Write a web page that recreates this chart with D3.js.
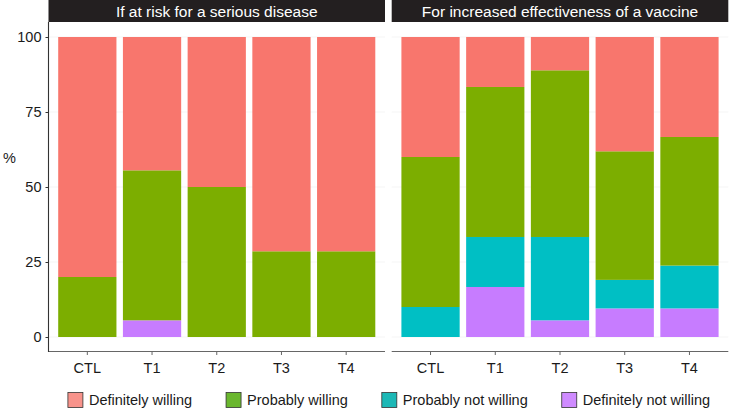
<!DOCTYPE html>
<html><head><meta charset="utf-8">
<script src="https://cdn.jsdelivr.net/npm/d3@7"></script>
<style>body{margin:0;background:#fff}svg{display:block;font-family:"Liberation Sans",Arial,sans-serif}</style>
</head><body><svg id="c" width="729" height="414"></svg>
<script>
const panels = ["If at risk for a serious disease","For increased effectiveness of a vaccine"];
const groups = ["CTL","T1","T2","T3","T4"];
const levels = ["Definitely willing","Probably willing","Probably not willing","Definitely not willing"];
const colors = ["#F8766D","#7CAE00","#00BFC4","#C77CFF"];
const keyColors = ["#F8938B","#6AB72E","#1CB8B6","#CF8BFF"];
const yTicks = [0,25,50,75,100];
// percentages per panel, per group
const riskDefNot  = [0, 5.56, 0, 0, 0];
const riskProbNot = [0, 0, 0, 0, 0];
const riskProb    = [20, 50, 50, 28.57, 28.57];
const riskDef     = [80, 44.44, 50, 71.43, 71.43];
const effDefNot   = [0, 16.67, 5.56, 9.52, 9.52];
const effProbNot  = [10, 16.67, 27.78, 9.52, 14.29];
const effProb     = [50, 50, 55.56, 42.86, 42.86];
const effDef      = [40, 16.67, 11.11, 38.10, 33.33];

const data = [
  {defNot:riskDefNot, probNot:riskProbNot, prob:riskProb, def:riskDef},
  {defNot:effDefNot, probNot:effProbNot, prob:effProb, def:effDef}
];

const svg = d3.select("#c");
const panelX = [[48.5,385],[391.7,728.3]];
const pTop = 22, pBottom = 352;
const y = d3.scaleLinear().domain([-5,105]).range([pBottom, pTop]);

panels.forEach((title,pi)=>{
  const [x0,x1] = panelX[pi];
  const step = (x1-x0)/5.2;
  const x = d3.scalePoint().domain(groups).range([x0+0.6*step, x1-0.6*step]);
  const bw = step*0.9;
  const g = svg.append("g");
  g.selectAll("line.grid").data(yTicks).join("line")
    .attr("x1",x0).attr("x2",x1).attr("y1",d=>y(d)).attr("y2",d=>y(d))
    .attr("stroke","#f3f3f3").attr("stroke-width",0.8);
  g.append("rect").attr("x",x0).attr("y",0).attr("width",x1-x0).attr("height",pTop)
    .attr("fill","#231F20");
  g.append("text").attr("x",(x0+x1)/2).attr("y",16.5).attr("text-anchor","middle")
    .attr("fill","#fff").attr("font-size",15.5).text(title);
  const d = data[pi];
  const rows = groups.map((gr,i)=>({g:gr, v:[d.defNot[i], d.probNot[i], d.prob[i], d.def[i]]}));
  const levIdx = [3,2,1,0];
  rows.forEach(r=>{
    let acc = 0;
    r.v.forEach((v,k)=>{
      if(v<=0) return;
      g.append("rect").attr("x",x(r.g)-bw/2).attr("width",bw)
        .attr("y",y(acc+v)).attr("height",y(acc)-y(acc+v))
        .attr("fill",colors[levIdx[k]]);
      acc += v;
    });
  });
  const ax = g.append("g");
  ax.append("line").attr("x1",x0).attr("x2",x1).attr("y1",pBottom-0.5).attr("y2",pBottom-0.5)
    .attr("stroke","#666").attr("stroke-width",1.1);
  groups.forEach(gr=>{
    ax.append("line").attr("x1",x(gr)).attr("x2",x(gr)).attr("y1",pBottom).attr("y2",pBottom+3)
      .attr("stroke","#666");
    ax.append("text").attr("x",x(gr)).attr("y",373).attr("text-anchor","middle")
      .attr("font-size",14.5).attr("fill","#1a1a1a").text(gr);
  });
  if(pi===0){
    const ya = d3.axisLeft(y).tickValues(yTicks).tickSize(3).tickPadding(4);
    const yg = g.append("g").attr("transform",`translate(${x0},0)`).call(ya);
    yg.select(".domain").attr("d",`M0,${pTop}V${pBottom}`).attr("stroke","#333").attr("stroke-width",1.1);
    yg.selectAll(".tick line").attr("stroke","#333");
    yg.selectAll(".tick text").attr("font-size",14.5).attr("fill","#1a1a1a")
      .attr("font-family","Liberation Sans, Arial, sans-serif");
  }
});
svg.append("text").attr("x",3).attr("y",163).attr("font-size",14.5).attr("fill","#1a1a1a").text("%");

const leg = svg.append("g");
const items = leg.selectAll("g").data(levels).join("g");
items.append("rect").attr("width",15).attr("height",15).attr("y",392.5)
  .attr("fill",(d,i)=>keyColors[i]).attr("stroke","#333").attr("stroke-width",0.8);
items.append("text").attr("x",21).attr("y",405).attr("font-size",14.5).attr("fill","#1a1a1a").text(d=>d);
const widths = [];
items.each(function(){ widths.push(21 + d3.select(this).select("text").node().getComputedTextLength()); });
const gap = 34;
const total = d3.sum(widths) + gap*(widths.length-1);
let lx = 389 - total/2;
items.each(function(d,i){ d3.select(this).attr("transform",`translate(${lx},0)`); lx += widths[i]+gap; });
</script></body></html>
